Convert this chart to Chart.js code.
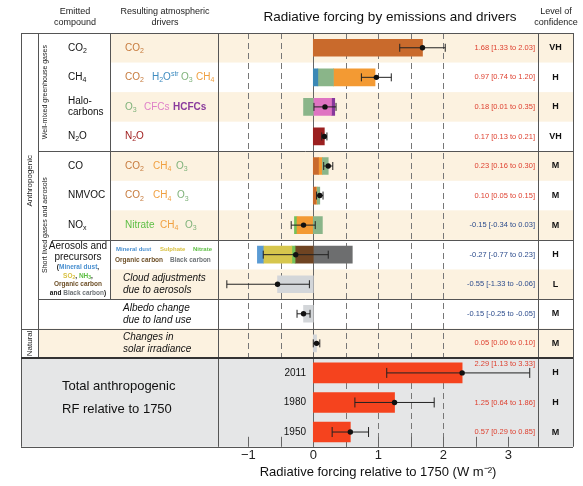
<!DOCTYPE html>
<html>
<head>
<meta charset="utf-8">
<script src="https://cdn.jsdelivr.net/npm/chart.js@4.4.0/dist/chart.umd.min.js"></script>
<style>
  html, body { margin: 0; padding: 0; background: #fff; }
</style>
</head>
<body>
<canvas id="rf" width="583" height="486"></canvas>
<script>
// rows of the figure, top to bottom
const rows = ['CO2', 'CH4', 'Halocarbons', 'N2O', 'CO', 'NMVOC', 'NOx', 'Aerosols',
  'Cloud adjustments', 'Albedo change', 'Solar irradiance', '2011', '1980', '1950'];

// contribution of each atmospheric driver, one value per row (W m-2)
const co2         = [1.68, 0,    0,     0,    0.08, 0.04, 0,     0,     0, 0, 0, 0, 0, 0];
const h2oStr      = [0,    0.07, 0,     0,    0,    0,    0,     0,     0, 0, 0, 0, 0, 0];
const o3          = [0,    0.24, -0.15, 0,    0.09, 0.04, 0.14,  0,     0, 0, 0, 0, 0, 0];
const ch4         = [0,    0.64, 0,     0,    0.06, 0.02, -0.25, 0,     0, 0, 0, 0, 0, 0];
const cfcs        = [0,    0,    0.28,  0,    0,    0,    0,     0,     0, 0, 0, 0, 0, 0];
const hcfcs       = [0,    0,    0.05,  0,    0,    0,    0,     0,     0, 0, 0, 0, 0, 0];
const n2o         = [0,    0,    0,     0.17, 0,    0,    0,     0,     0, 0, 0, 0, 0, 0];
const mineralDust = [0,    0,    0,     0,    0,    0,    0,     -0.09, 0, 0, 0, 0, 0, 0];
const sulphate    = [0,    0,    0,     0,    0,    0,    0,     -0.44, 0, 0, 0, 0, 0, 0];
const nitrate     = [0,    0,    0,     0,    0,    0,    -0.04, -0.05, 0, 0, 0, 0, 0, 0];
const orgCarbon   = [0,    0,    0,     0,    0,    0,    0,     -0.28, 0, 0, 0, 0, 0, 0];
const blackCarbon = [0,    0,    0,     0,    0,    0,    0,     0.60,  0, 0, 0, 0, 0, 0];
const cloudAdj    = [0,    0,    0,     0,    0,    0,    0,     0,     -0.55, 0, 0, 0, 0, 0];
const albedo      = [0,    0,    0,     0,    0,    0,    0,     0,     0, -0.15, 0, 0, 0, 0];
const solar       = [0,    0,    0,     0,    0,    0,    0,     0,     0, 0, 0.05, 0, 0, 0];
const totalRF     = [0,    0,    0,     0,    0,    0,    0,     0,     0, 0, 0, 2.29, 1.25, 0.57];

// best estimate and uncertainty range
const best = [1.68, 0.97, 0.18, 0.17, 0.23, 0.10, -0.15, -0.27, -0.55, -0.15, 0.05, 2.29, 1.25, 0.57];
const low  = [1.33, 0.74, 0.01, 0.13, 0.16, 0.05, -0.34, -0.77, -1.33, -0.25, 0.00, 1.13, 0.64, 0.29];
const high = [2.03, 1.20, 0.35, 0.21, 0.30, 0.15, 0.03,  0.23,  -0.06, -0.05, 0.10, 3.33, 1.86, 0.85];
const confidence = ['VH', 'H', 'H', 'VH', 'M', 'M', 'M', 'H', 'L', 'M', 'M', 'H', 'H', 'M'];

// x axis tick labels
const xTicks = [-1, 0, 1, 2, 3];

// order of the pieces in each bar, going out from zero
const stackOrder = [
  ['CO2'], ['H2O', 'O3', 'CH4'], ['CFCs', 'HCFCs', 'O3'], ['N2O'],
  ['CO2', 'CH4', 'O3'], ['CO2', 'CH4', 'O3'], ['O3', 'CH4', 'Nitrate'],
  ['BC', 'OC', 'Nitrate', 'Sulphate', 'Dust'],
  ['Cloud'], ['Albedo'], ['Solar'], ['Total'], ['Total'], ['Total']
];

const series = {
  CO2: co2, H2O: h2oStr, O3: o3, CH4: ch4, CFCs: cfcs, HCFCs: hcfcs, N2O: n2o,
  Dust: mineralDust, Sulphate: sulphate, Nitrate: nitrate, OC: orgCarbon, BC: blackCarbon,
  Cloud: cloudAdj, Albedo: albedo, Solar: solar, Total: totalRF
};
const barColors = {
  CO2: '#c96a2c', H2O: '#3b88b5', O3: '#8ab589', CH4: '#f39a33', CFCs: '#df74c2', HCFCs: '#87399b',
  N2O: '#9b2020', Dust: '#5a9bd4', Sulphate: '#d6c64d', Nitrate: '#74c25a', OC: '#6f4422',
  BC: '#6d6e6f', Cloud: '#d3d6d9', Albedo: '#d3d6d9', Solar: '#d3d6d9', Total: '#f5431e'
};

// turn the pieces into floating bars
const floats = {};
Object.keys(series).forEach(k => floats[k] = rows.map(() => null));
stackOrder.forEach((keys, i) => {
  let pos = 0, neg = 0;
  keys.forEach(k => {
    const v = series[k][i];
    if (!v) return;
    if (v > 0) { floats[k][i] = [pos, pos + v]; pos += v; }
    else { floats[k][i] = [neg + v, neg]; neg += v; }
  });
});

const F = '"Liberation Sans", Arial, Helvetica, sans-serif';
const tc = {
  co2: '#c67a3c', h2o: '#3f8cc0', o3: '#7fb27a', ch4: '#f0a041', cfc: '#de80c8', hcfc: '#8a3b9c',
  n2o: '#a01f1f', nitrate: '#5ebf45', dust: '#4a90d0', sulph: '#d8c040', oc: '#6e5028', bc: '#6f7478'
};

// 'CO_2' -> subscript 2, 'H_2O^str' -> superscript str
function chem(s, c, b) {
  const out = [];
  let i = 0, buf = '';
  while (i < s.length) {
    const ch = s[i];
    if (ch === '_' || ch === '^') {
      if (buf) { out.push({ t: buf, c, b }); buf = ''; }
      let j = i + 1, t = '';
      if (ch === '_') { t = s[j]; j++; }
      else { while (j < s.length && /[a-z]/.test(s[j])) { t += s[j]; j++; } }
      out.push({ t, c, b, sub: ch === '_', sup: ch === '^' });
      i = j;
    } else { buf += ch; i++; }
  }
  if (buf) out.push({ t: buf, c, b });
  return out;
}

function runs(ctx, x, y, parts, size, align, style) {
  const font = p => `${style || ''} ${p.b ? 'bold ' : ''}${(p.sub || p.sup) ? Math.round(size * 0.7) : size}px ${F}`;
  let w = 0;
  parts.forEach(p => { ctx.font = font(p); p.w = ctx.measureText(p.t).width; w += p.w; });
  let cx = align === 'center' ? x - w / 2 : align === 'right' ? x - w : x;
  ctx.textBaseline = 'middle';
  ctx.textAlign = 'left';
  parts.forEach(p => {
    ctx.font = font(p);
    ctx.fillStyle = p.c || '#111';
    const dy = p.sub ? size * 0.3 : p.sup ? -size * 0.35 : 0;
    ctx.fillText(p.t, cx, y + dy);
    cx += p.w;
  });
}

function text(ctx, s, x, y, size, color, align, weight) {
  ctx.font = `${weight || ''} ${size}px ${F}`;
  ctx.fillStyle = color || '#111';
  ctx.textAlign = align || 'left';
  ctx.textBaseline = 'middle';
  ctx.fillText(s, x, y);
}

function vtext(ctx, s, x, y, size) {
  ctx.save();
  ctx.translate(x, y);
  ctx.rotate(-Math.PI / 2);
  text(ctx, s, 0, 0, size, '#222', 'center');
  ctx.restore();
}

const L = 21, R = 573;
const tablePlugin = {
  id: 'table',
  beforeDraw(chart) {
    const { ctx, scales: { x, y } } = chart;
    const step = y.getPixelForValue(1) - y.getPixelForValue(0);
    const top = i => y.getPixelForValue(i) - step / 2;
    ctx.save();
    ctx.fillStyle = '#fff';
    ctx.fillRect(0, 0, chart.width, chart.height);
    ctx.fillStyle = '#fcf2e0';
    for (let i = 0; i <= 10; i += 2) {
      const x0 = i === 10 ? 38 : 110;
      ctx.fillRect(x0, top(i), R - x0, step);
    }
    ctx.fillStyle = '#e5e6e7';
    ctx.fillRect(L, top(11), R - L, top(14) - top(11));
    ctx.restore();
  },
  beforeDatasetsDraw(chart) {
    const { ctx, chartArea: a, scales: { x, y } } = chart;
    const step = y.getPixelForValue(1) - y.getPixelForValue(0);
    const sep = y.getPixelForValue(11) - step / 2;
    ctx.save();
    ctx.strokeStyle = '#777';
    ctx.lineWidth = 1;
    ctx.setLineDash([6, 4]);
    [-1, -0.5, 0.5, 1, 1.5, 2].forEach(v => {
      const px = Math.round(x.getPixelForValue(v)) + 0.5;
      ctx.beginPath();
      ctx.moveTo(px, a.top);
      ctx.lineTo(px, v < 0 ? sep : a.bottom);
      ctx.stroke();
    });
    ctx.setLineDash([]);
    ctx.strokeStyle = '#666';
    const z = Math.round(x.getPixelForValue(0)) + 0.5;
    ctx.beginPath(); ctx.moveTo(z, a.top); ctx.lineTo(z, a.bottom); ctx.stroke();
    // inward tick marks on the bottom axis
    for (let v = -1; v <= 3; v += 0.5) {
      const px = Math.round(x.getPixelForValue(v)) + 0.5;
      ctx.beginPath(); ctx.moveTo(px, a.bottom - 10); ctx.lineTo(px, a.bottom); ctx.stroke();
    }
    ctx.restore();
  },
  afterDatasetsDraw(chart) {
    const { ctx, chartArea: a, scales: { x, y } } = chart;
    const step = y.getPixelForValue(1) - y.getPixelForValue(0);
    const cy = i => y.getPixelForValue(i);
    const top = i => cy(i) - step / 2;
    ctx.save();

    // error bars and best estimates
    rows.forEach((r, i) => {
      const yy = cy(i);
      const x1 = x.getPixelForValue(low[i]), x2 = x.getPixelForValue(high[i]);
      const cap = i >= 11 ? 5 : 4;
      ctx.strokeStyle = '#222';
      ctx.lineWidth = 1;
      ctx.beginPath();
      ctx.moveTo(x1, yy); ctx.lineTo(x2, yy);
      ctx.moveTo(x1, yy - cap); ctx.lineTo(x1, yy + cap);
      ctx.moveTo(x2, yy - cap); ctx.lineTo(x2, yy + cap);
      ctx.stroke();
      ctx.fillStyle = '#111';
      ctx.beginPath();
      ctx.arc(x.getPixelForValue(best[i]), yy, 2.7, 0, Math.PI * 2);
      ctx.fill();
    });

    // value text and confidence
    rows.forEach((r, i) => {
      const f = v => v.toFixed(2);
      const s = `${f(best[i])} [${f(low[i])} to ${f(high[i])}]`;
      const col = best[i] > 0 ? '#de3f2e' : '#2b4b8c';
      const ty = i === 11 ? cy(i) - 9 : cy(i);
      text(ctx, s, 535, ty, 7.5, col, 'right');
      text(ctx, confidence[i], 555.5, cy(i), 9, '#111', 'center', 'bold');
    });

    // table lines
    ctx.strokeStyle = '#555';
    ctx.lineWidth = 1;
    const h = (yy, x1, x2) => { yy = Math.round(yy) + 0.5; ctx.beginPath(); ctx.moveTo(x1, yy); ctx.lineTo(x2, yy); ctx.stroke(); };
    const v = (xx, y1, y2) => { xx = Math.round(xx) + 0.5; ctx.beginPath(); ctx.moveTo(xx, y1); ctx.lineTo(xx, y2); ctx.stroke(); };
    h(top(0), L, R);
    h(top(4), 38, R);
    h(top(7), 52, R);
    h(top(9), 38, R);
    h(top(10), L, R);
    h(top(14), L, R);
    v(L, top(0), top(14));
    v(38, top(0), top(11));
    v(110, top(0), top(9));
    v(a.left, top(0), top(14));
    v(a.right, top(0), top(14));
    v(R, top(0), top(14));
    ctx.strokeStyle = '#333';
    ctx.lineWidth = 2;
    ctx.beginPath(); ctx.moveTo(L, Math.round(top(11))); ctx.lineTo(R, Math.round(top(11))); ctx.stroke();

    // headers
    text(ctx, 'Emitted', 75, 11.5, 9, '#222', 'center');
    text(ctx, 'compound', 75, 22.5, 9, '#222', 'center');
    text(ctx, 'Resulting atmospheric', 165, 11.5, 9, '#222', 'center');
    text(ctx, 'drivers', 165, 22.5, 9, '#222', 'center');
    text(ctx, 'Radiative forcing by emissions and drivers', 390, 17, 13.5, '#111', 'center');
    text(ctx, 'Level of', 556, 11.5, 9, '#222', 'center');
    text(ctx, 'confidence', 556, 22.5, 9, '#222', 'center');

    // group labels
    vtext(ctx, 'Well-mixed greenhouse gases', 45, (top(0) + top(4)) / 2, 7);
    vtext(ctx, 'Short lived gases and aerosols', 45, (top(4) + top(9)) / 2, 7);
    vtext(ctx, 'Anthropogenic', 30, (top(0) + top(10)) / 2, 8);
    vtext(ctx, 'Natural', 30, cy(10), 8);

    // emitted compounds
    const ex = 68;
    runs(ctx, ex, cy(0), chem('CO_2'), 10);
    runs(ctx, ex, cy(1), chem('CH_4'), 10);
    text(ctx, 'Halo-', ex, cy(2) - 5.7, 10, '#111');
    text(ctx, 'carbons', ex, cy(2) + 5.7, 10, '#111');
    runs(ctx, ex, cy(3), chem('N_2O'), 10);
    text(ctx, 'CO', ex, cy(4), 10, '#111');
    text(ctx, 'NMVOC', ex, cy(5), 10, '#111');
    runs(ctx, ex, cy(6), chem('NO_x'), 10);
    const b78 = top(8);
    text(ctx, 'Aerosols and', 78, b78 - 23, 10, '#111', 'center');
    text(ctx, 'precursors', 78, b78 - 12, 10, '#111', 'center');
    runs(ctx, 78, b78 - 2, [{ t: '(', c: '#111', b: 1 }, { t: 'Mineral dust', c: tc.dust, b: 1 }, { t: ',', c: '#111', b: 1 }], 6.5, 'center');
    runs(ctx, 78, b78 + 6.5, [...chem('SO_2', tc.sulph, 1), { t: ', ', c: '#111', b: 1 }, ...chem('NH_3', tc.nitrate, 1), { t: ',', c: '#111', b: 1 }], 6.5, 'center');
    runs(ctx, 78, b78 + 15, [{ t: 'Organic carbon', c: tc.oc, b: 1 }], 6.5, 'center');
    runs(ctx, 78, b78 + 23.5, [{ t: 'and ', c: '#111', b: 1 }, { t: 'Black carbon', c: tc.bc, b: 1 }, { t: ')', c: '#111', b: 1 }], 6.5, 'center');

    // resulting drivers
    const drv = [
      [[125, 'CO_2', tc.co2]],
      [[125, 'CO_2', tc.co2], [152, 'H_2O^str', tc.h2o], [181, 'O_3', tc.o3], [196, 'CH_4', tc.ch4]],
      [[125, 'O_3', tc.o3], [144, 'CFCs', tc.cfc], [173, 'HCFCs', tc.hcfc, 1]],
      [[125, 'N_2O', tc.n2o]],
      [[125, 'CO_2', tc.co2], [153, 'CH_4', tc.ch4], [176, 'O_3', tc.o3]],
      [[125, 'CO_2', tc.co2], [153, 'CH_4', tc.ch4], [177, 'O_3', tc.o3]],
      [[125, 'Nitrate', tc.nitrate], [160, 'CH_4', tc.ch4], [185, 'O_3', tc.o3]]
    ];
    drv.forEach((list, i) => list.forEach(d => runs(ctx, d[0], cy(i), chem(d[1], d[2], d[3]), 10)));
    runs(ctx, 116, cy(7) - 5.5, [{ t: 'Mineral dust', c: tc.dust, b: 1 }], 6);
    runs(ctx, 160, cy(7) - 5.5, [{ t: 'Sulphate', c: tc.sulph, b: 1 }], 6);
    runs(ctx, 193, cy(7) - 5.5, [{ t: 'Nitrate', c: tc.nitrate, b: 1 }], 6);
    runs(ctx, 115, cy(7) + 5.5, [{ t: 'Organic carbon', c: tc.oc, b: 1 }], 6.5);
    runs(ctx, 170, cy(7) + 5.5, [{ t: 'Black carbon', c: tc.bc, b: 1 }], 6.5);
    const it = (s1, s2, i) => {
      runs(ctx, 123, cy(i) - 6, [{ t: s1, c: '#111' }], 10, 'left', 'italic');
      runs(ctx, 123, cy(i) + 6, [{ t: s2, c: '#111' }], 10, 'left', 'italic');
    };
    it('Cloud adjustments', 'due to aerosols', 8);
    it('Albedo change', 'due to land use', 9);
    it('Changes in', 'solar irradiance', 10);

    // total anthropogenic block
    text(ctx, 'Total anthropogenic', 62, 386, 13, '#111');
    text(ctx, 'RF relative to 1750', 62, 409, 13, '#111');
    [11, 12, 13].forEach(i => text(ctx, rows[i], 306, cy(i), 10, '#111', 'right'));

    ctx.restore();
  }
};

const datasets = Object.keys(series).map(k => ({
  label: k,
  data: floats[k],
  backgroundColor: barColors[k],
  borderWidth: 0,
  grouped: false,
  barThickness: k === 'Total' ? 20 : 17
}));

new Chart(document.getElementById('rf').getContext('2d'), {
  type: 'bar',
  data: { labels: rows, datasets: datasets },
  options: {
    responsive: false,
    animation: false,
    devicePixelRatio: 1,
    indexAxis: 'y',
    layout: { padding: { left: 218, right: 45, top: 33, bottom: 1 } },
    plugins: { legend: { display: false }, tooltip: { enabled: false } },
    scales: {
      y: { type: 'category', display: false, offset: true },
      x: {
        type: 'linear', min: -1.466, max: 3.457,
        grid: { display: false, drawTicks: false }, border: { display: false },
        ticks: {
          stepSize: 0.5, autoSkip: false, maxRotation: 0, padding: 1, includeBounds: false,
          color: '#222', font: { family: F, size: 13 },
          callback: v => {
            const t = xTicks.find(k => Math.abs(k - v) < 1e-6);
            return t === undefined ? '' : (t < 0 ? '\u2212' + Math.abs(t) : String(t));
          }
        },
        title: {
          display: true, text: 'Radiative forcing relative to 1750 (W m\u207B\u00B2)',
          color: '#111', font: { family: F, size: 13 }, padding: { top: 0, bottom: 5 }
        }
      }
    }
  },
  plugins: [tablePlugin]
});
</script>
</body>
</html>
